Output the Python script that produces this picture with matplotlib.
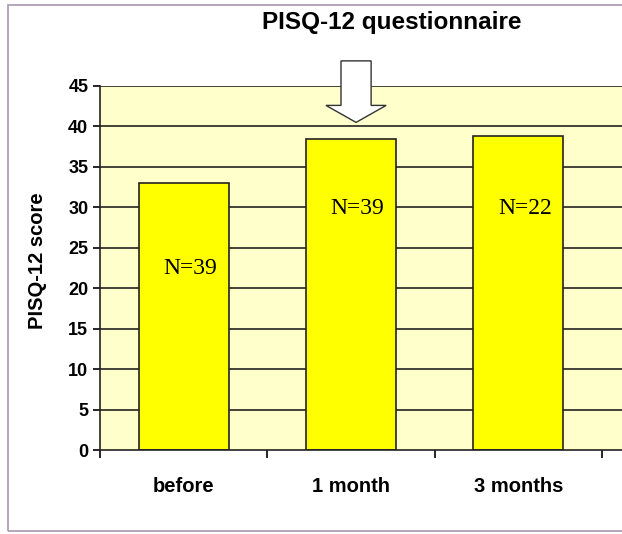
import matplotlib.pyplot as plt
from matplotlib.patches import Polygon, Rectangle

# data
categories = ['before', '1 month', '3 months']
scores = [33.0, 38.4, 38.8]
n_labels = ['N=39', 'N=39', 'N=22']
n_label_y = [22.5, 29.9, 29.9]

fig = plt.figure(figsize=(6.22, 5.34), dpi=100)
ax = fig.add_axes([0.161, 0.157, 0.839, 0.682])
ax.set_facecolor('#FFFFCC')

x = list(range(len(categories)))
for v in range(5, 50, 5):
    ax.axhline(v, color='#222222', lw=1.2, zorder=1)
ax.bar(x, scores, width=0.54, color='#FFFF00', edgecolor='#222222', lw=1.2, zorder=2)

for xi, lab, ly in zip(x, n_labels, n_label_y):
    ax.text(xi + 0.04, ly, lab, ha='center', va='center', fontsize=17,
            family='Liberation Serif', zorder=3)

ax.set_xlim(-0.5, 2.62)
ax.set_ylim(0, 45)
ax.set_yticks(range(0, 50, 5))
ax.set_xticks([-0.5, 0.5, 1.5, 2.5])
ax.set_xticklabels([])
ax.set_xticks(x, minor=True)
ax.set_xticklabels(categories, minor=True)
ax.tick_params(axis='x', which='minor', length=0, pad=19, labelsize=14.5)
ax.tick_params(axis='x', which='major', length=6, direction='out', width=1.2)
ax.tick_params(axis='y', length=5, width=1.2, labelsize=13)
for lab in ax.get_xticklabels(minor=True) + ax.get_yticklabels():
    lab.set_fontweight('bold')
    lab.set_family('Liberation Sans')

for s in ['top', 'right']:
    ax.spines[s].set_visible(False)
for s in ['left', 'bottom']:
    ax.spines[s].set_color('#222222')
    ax.spines[s].set_linewidth(1.2)

ax.set_ylabel('PISQ-12 score', fontsize=14.5, fontweight='bold', family='Liberation Sans')
ax.yaxis.set_label_coords(-0.102, 0.52)
fig.text(0.63, 0.958, 'PISQ-12 questionnaire', ha='center', va='center', fontsize=17.5,
         fontweight='bold', family='Liberation Sans')

# hollow arrow pointing at the 1 month bar
cx = 1.03
arrow = [(cx - 0.09, 48.1), (cx + 0.09, 48.1), (cx + 0.09, 42.6), (cx + 0.18, 42.6),
         (cx, 40.5), (cx - 0.18, 42.6), (cx - 0.09, 42.6)]
ax.add_patch(Polygon(arrow, closed=True, facecolor='white', edgecolor='#333333',
                     lw=1.0, clip_on=False, zorder=5))

# outer frame
fig.patches.append(Rectangle((0.013, 0.006), 1.2, 0.984, transform=fig.transFigure,
                             fill=False, edgecolor='#a898b0', lw=1.2))

fig.savefig('out.png', dpi=100)
